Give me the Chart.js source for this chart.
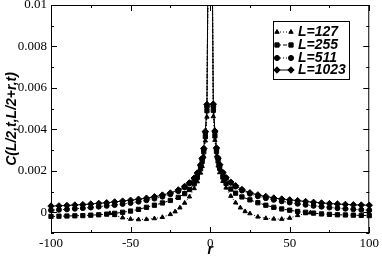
<!DOCTYPE html>
<html>
<head>
<meta charset="utf-8">
<script src="https://cdn.jsdelivr.net/npm/chart.js@4.4.0/dist/chart.umd.min.js"></script>
<style>
  html, body { margin: 0; padding: 0; background: #fff; }
</style>
</head>
<body>
<canvas id="corrChart" width="382" height="258"></canvas>
<script>
// --- data ---
const rLong = [-100,-95,-90,-85,-80,-75,-70,-65,-60,-55,-50,-45,-40,-35,-30,-25,-20,-16,-13,-10,-8,-6,-5,-4,-3,-2,-1,0,
               1,2,3,4,5,6,8,10,13,16,20,25,30,35,40,45,50,55,60,65,70,75,80,85,90,95,100];
const r127 = [-63,-60,-55,-50,-45,-40,-35,-30,-25,-22,-19,-16,-13,-10,-8,-6,-5,-4,-3,-2,-1,0,
              1,2,3,4,5,6,8,10,13,16,19,22,25,30,35,40,45,50,55,60,63];

const c127 = [-0.00005,-0.00015,-0.00026,-0.00033,-0.00035,-0.00034,-0.00030,-0.00024,-0.00010,0.00003,0.00022,0.00045,0.00075,0.00115,0.00148,0.00190,0.00222,0.00270,0.00345,0.00460,0.0150,0.1,
              0.0150,0.00462,0.00348,0.00272,0.00224,0.00192,0.00150,0.00118,0.00078,0.00046,0.00022,0.00004,-0.00006,-0.00022,-0.00029,-0.00032,-0.00033,-0.00028,-0.00015,-0.00006,-0.00002];
const c255 = [-0.00020,-0.00019,-0.00018,-0.00017,-0.00016,-0.00014,-0.00012,-0.00009,-0.00005,0.00000,0.00006,0.00014,0.00024,0.00034,0.00045,0.00057,0.00072,0.00090,0.00110,0.00138,0.00168,0.00210,0.00245,0.00292,0.00365,0.00490,0.0150,0.1,
              0.0150,0.00492,0.00368,0.00294,0.00247,0.00212,0.00170,0.00140,0.00112,0.00092,0.00074,0.00060,0.00046,0.00034,0.00024,0.00016,0.00010,0.00004,0.00000,-0.00004,-0.00008,-0.00010,-0.00012,-0.00013,-0.00014,-0.00015,-0.00016];
const c511 = [0.00010,0.00012,0.00014,0.00017,0.00020,0.00023,0.00027,0.00031,0.00035,0.00040,0.00045,0.00051,0.00058,0.00066,0.00075,0.00087,0.00102,0.00120,0.00140,0.00163,0.00188,0.00225,0.00258,0.00305,0.00385,0.00510,0.0150,0.1,
              0.0150,0.00512,0.00388,0.00307,0.00260,0.00227,0.00190,0.00165,0.00143,0.00124,0.00105,0.00089,0.00077,0.00068,0.00060,0.00053,0.00047,0.00041,0.00036,0.00031,0.00027,0.00023,0.00020,0.00017,0.00014,0.00012,0.00010];
const c1023 = [0.00030,0.00031,0.00033,0.00035,0.00037,0.00040,0.00043,0.00046,0.00050,0.00054,0.00058,0.00063,0.00068,0.00075,0.00083,0.00093,0.00108,0.00125,0.00142,0.00165,0.00190,0.00228,0.00260,0.00308,0.00390,0.00520,0.0150,0.1,
               0.0150,0.00522,0.00392,0.00310,0.00262,0.00230,0.00192,0.00167,0.00145,0.00128,0.00110,0.00094,0.00084,0.00076,0.00069,0.00064,0.00060,0.00056,0.00052,0.00048,0.00045,0.00042,0.00040,0.00038,0.00036,0.00035,0.00034];

const seriesLabels = ['L=127', 'L=255', 'L=511', 'L=1023'];
const xTicks = [-100, -50, 0, 50, 100];
const xMinor = [-75, -25, 25, 75];
const yTicks = [0, 0.002, 0.004, 0.006, 0.008, 0.01];
const yMinor = [-0.001, 0.001, 0.003, 0.005, 0.007, 0.009];

function pts(rs, cs) { return rs.map((r, i) => ({ x: r, y: cs[i] })); }

function series(label, rs, cs, style, radius, dash) {
    return {
        label: label,
        data: pts(rs, cs),
        showLine: true,
        borderColor: '#000',
        backgroundColor: '#000',
        borderWidth: 1,
        borderDash: dash,
        pointStyle: style,
        pointRadius: radius,
        pointBorderWidth: 1,
        pointBackgroundColor: '#000',
        pointBorderColor: '#000',
        clip: { left: 5, right: 5, top: 0, bottom: 0 }
    };
}

// frame, inward ticks, axis titles and legend box
const decorations = {
    id: 'decorations',
    afterDraw(chart) {
        const ctx = chart.ctx, a = chart.chartArea;
        const xs = chart.scales.x, ys = chart.scales.y;
        ctx.save();
        ctx.strokeStyle = '#000';
        ctx.lineWidth = 1;
        ctx.setLineDash([]);
        ctx.strokeRect(a.left + 0.5, a.top + 0.5, a.right - a.left - 1, a.bottom - a.top - 1);

        function seg(x1, y1, x2, y2) { ctx.beginPath(); ctx.moveTo(x1, y1); ctx.lineTo(x2, y2); ctx.stroke(); }
        function xt(v, len) {
            const p = Math.round(xs.getPixelForValue(v)) + 0.5;
            seg(p, a.bottom, p, a.bottom - len);
            seg(p, a.top, p, a.top + len);
        }
        function yt(v, len) {
            const p = Math.round(ys.getPixelForValue(v)) + 0.5;
            seg(a.left, p, a.left + len, p);
            seg(a.right, p, a.right - len, p);
        }
        xTicks.forEach(v => xt(v, 6));
        xMinor.forEach(v => xt(v, 3));
        yTicks.forEach(v => yt(v, 6));
        yMinor.forEach(v => yt(v, 3));

        // axis titles
        ctx.fillStyle = '#000';
        ctx.font = 'bold italic 14px "Liberation Sans", Arial, sans-serif';
        ctx.textAlign = 'center';
        ctx.textBaseline = 'middle';
        ctx.fillText('r', xs.getPixelForValue(0), 250);
        ctx.save();
        ctx.translate(12, (a.top + a.bottom) / 2);
        ctx.rotate(-Math.PI / 2);
        ctx.fillText('C(L/2,t,L/2+r,t)', 0, 0);
        ctx.restore();

        // legend
        ctx.strokeRect(273.5, 21.5, 76, 58);
        const rows = [32, 45, 58, 70];
        chart.data.datasets.forEach((ds, i) => {
            const y = rows[i];
            ctx.setLineDash(ds.borderDash || []);
            seg(277, y, 291, y);
            ctx.setLineDash([]);
            [277, 291].forEach(x => {
                Chart.helpers.drawPoint(ctx, {
                    pointStyle: ds.pointStyle, radius: ds.pointRadius, borderWidth: 1, rotation: 0
                }, x, y);
                ctx.fill();
            });
            ctx.textAlign = 'left';
            ctx.fillText(ds.label, 298, y + 0.5);
        });
        ctx.restore();
    }
};

const canvas = document.getElementById('corrChart');
new Chart(canvas.getContext('2d'), {
    type: 'scatter',
    data: {
        datasets: [
            series(seriesLabels[0], r127, c127, 'triangle', 2.5, [1, 2]),
            series(seriesLabels[1], rLong, c255, 'rect', 3, [4, 2]),
            series(seriesLabels[2], rLong, c511, 'circle', 2.5, [1, 2]),
            series(seriesLabels[3], rLong, c1023, 'rectRot', 3.2, [])
        ]
    },
    options: {
        responsive: false,
        animation: false,
        layout: { padding: { top: 0, right: 12, left: 0, bottom: 0 } },
        plugins: { legend: { display: false }, tooltip: { enabled: false } },
        scales: {
            x: {
                type: 'linear',
                min: -100, max: 100,
                grid: { display: false, drawTicks: false },
                border: { display: false },
                afterBuildTicks: s => { s.ticks = xTicks.map(v => ({ value: v })); },
                afterFit: s => { s.height = 25; },
                ticks: {
                    padding: 3,
                    color: '#000',
                    maxRotation: 0,
                    font: { family: '"Liberation Serif", "Times New Roman", serif', size: 13 },
                    callback: v => String(v)
                }
            },
            y: {
                min: -0.001, max: 0.01,
                grid: { display: false, drawTicks: false },
                border: { display: false },
                afterBuildTicks: s => { s.ticks = yTicks.map(v => ({ value: v })); },
                afterFit: s => { s.width = 51; s.paddingTop = 5; s.paddingBottom = 0; },
                ticks: {
                    padding: 4,
                    color: '#000',
                    font: { family: '"Liberation Serif", "Times New Roman", serif', size: 13 },
                    callback: v => v === 0 ? '0' : String(v)
                }
            }
        }
    },
    plugins: [decorations]
});
</script>
</body>
</html>
